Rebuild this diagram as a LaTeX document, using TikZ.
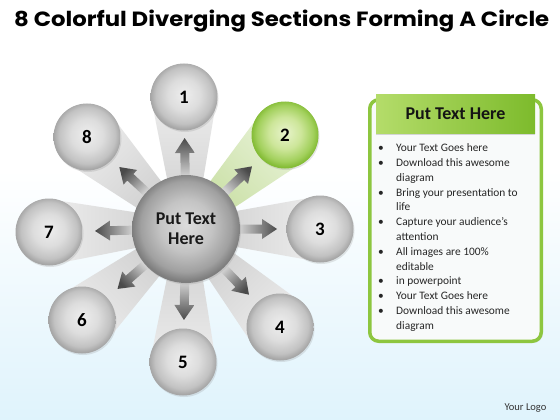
\documentclass[tikz,border=0pt]{standalone}
\usepackage{fontspec}
\setmainfont{Carlito}
\newfontfamily\titlefont{Poppins}
\usetikzlibrary{calc,shadows}
\definecolor{bluebg}{HTML}{DFF3FC}
\definecolor{pgreen}{HTML}{8DC63F}
\definecolor{panelbg}{HTML}{F8FAFA}
\definecolor{hdl}{HTML}{B4DC6A}
\definecolor{hdr}{HTML}{7DBB2C}
\definecolor{arrhead}{HTML}{4A4A4A}
\definecolor{arrtail}{HTML}{D6D6D6}
\definecolor{gbin}{HTML}{CBCBCB}
\definecolor{gbout}{HTML}{EDEDED}
\definecolor{vbin}{HTML}{C4DC9C}
\definecolor{vbout}{HTML}{E9F3D9}
\definecolor{gsA}{HTML}{EEEEEE}
\definecolor{gsB}{HTML}{DDDDDD}
\definecolor{gsC}{HTML}{C2C2C2}
\definecolor{gsD}{HTML}{A6A6A6}
\definecolor{hsA}{HTML}{DCDCDC}
\definecolor{hsB}{HTML}{C4C4C4}
\definecolor{hsC}{HTML}{A0A0A0}
\definecolor{hsD}{HTML}{7E7E7E}
\definecolor{vsA}{HTML}{E8F4CC}
\definecolor{vsB}{HTML}{CDE69A}
\definecolor{vsC}{HTML}{A2D05C}
\definecolor{vsD}{HTML}{84BC36}
\pgfdeclareradialshading{graysphere}{\pgfpoint{0bp}{2bp}}{color(0bp)=(gsA); color(12bp)=(gsB); color(21bp)=(gsC); color(25bp)=(gsD); color(50bp)=(gsD)}
\pgfdeclareradialshading{hubsphere}{\pgfpoint{0bp}{2bp}}{color(0bp)=(hsA); color(12bp)=(hsB); color(21bp)=(hsC); color(25bp)=(hsD); color(50bp)=(hsD)}
\pgfdeclareradialshading{greensphere}{\pgfpoint{0bp}{2bp}}{color(0bp)=(vsA); color(12bp)=(vsB); color(21bp)=(vsC); color(25bp)=(vsD); color(50bp)=(vsD)}
\pgfdeclarelayer{pagebg}
\pgfdeclarelayer{beams}
\pgfdeclarelayer{arrs}
\pgfsetlayers{pagebg,beams,arrs,main}
\newcommand\fatarr[2]{%
  \coordinate (at) at ($(c)!52pt!(#1)$);
  \coordinate (ah) at ($(c)!91pt!(#1)$);
  \coordinate (an) at ($(c)!76pt!(#1)$);
  \shade[top color=arrhead, bottom color=arrtail, shading angle=#2]
    ($(at)!4.5pt!90:(ah)$) -- ($(an)!4.5pt!90:(ah)$) -- ($(an)!10pt!90:(ah)$) -- (ah)
    -- ($(an)!10pt!-90:(ah)$) -- ($(an)!4.5pt!-90:(ah)$) -- ($(at)!4.5pt!-90:(ah)$) -- cycle;}
\newcommand\beamto[3]{%
  \shade[top color=#3out, bottom color=#3in, shading angle=#2]
    ($(c)!9pt!90:(#1)$) -- ($(#1)!33pt!-90:(c)$) -- ($(#1)!33pt!90:(c)$) -- ($(c)!9pt!-90:(#1)$) -- cycle;}
\begin{document}
\begin{tikzpicture}[x=1pt,y=-1pt,
  sph/.style={circle, minimum size=67pt, inner sep=0pt, shading=graysphere,
    drop shadow={shadow xshift=1pt, shadow yshift=-1.5pt, opacity=0.2},
    font=\bfseries\fontsize{19}{19}\selectfont, text=black},
  gsph/.style={sph, shading=greensphere},
  hub/.style={circle, minimum size=108pt, inner sep=0pt, shading=hubsphere,
    drop shadow={shadow xshift=1pt, shadow yshift=-1.5pt, opacity=0.2},
    align=center, font=\bfseries\fontsize{18}{20}\selectfont, text=black!90},
  listtxt/.style={anchor=base west, inner sep=0pt, font=\fontsize{11.4}{14}\selectfont, text=black!85},
  bul/.style={anchor=base, inner sep=0pt, font=\fontsize{11.4}{14}\selectfont, text=black!85}]
\useasboundingbox (0,0) rectangle (560,420);
\begin{pgfonlayer}{pagebg}
  \fill[white] (0,0) rectangle (560,420);
  \shade[top color=white, bottom color=bluebg] (0,170) rectangle (560,420);
\end{pgfonlayer}

\node[anchor=base west, inner sep=0pt] (title) at (14,26.7)
  {\resizebox{535pt}{16.5pt}{\titlefont\bfseries 8 Colorful Diverging Sections Forming A Circle}};

\node[hub] (c) at (186,229) {Put Text\\Here};
\node[sph] (o1) at (184,97) {1};
\node[gsph] (o2) at (285,135) {2};
\node[sph] (o3) at (320,229) {3};
\node[sph] (o4) at (280,327) {4};
\node[sph] (o5) at (183,362) {5};
\node[sph] (o6) at (82,320) {6};
\node[sph] (o7) at (49,232) {7};
\node[sph] (o8) at (87,137) {8};

\begin{pgfonlayer}{beams}
  \beamto{o1}{0}{gb}
  \beamto{o2}{-45}{vb}
  \beamto{o3}{-90}{gb}
  \beamto{o4}{-135}{gb}
  \beamto{o5}{180}{gb}
  \beamto{o6}{135}{gb}
  \beamto{o7}{90}{gb}
  \beamto{o8}{45}{gb}
\end{pgfonlayer}
\begin{pgfonlayer}{arrs}
  \fatarr{o1}{0}
  \fatarr{o2}{-45}
  \fatarr{o3}{-90}
  \fatarr{o4}{-135}
  \fatarr{o5}{180}
  \fatarr{o6}{135}
  \fatarr{o7}{90}
  \fatarr{o8}{45}
\end{pgfonlayer}

\node[draw=pgreen, line width=3.5pt, rounded corners=9pt, fill=panelbg,
  minimum width=171.5pt, minimum height=241.5pt, inner sep=0pt,
  drop shadow={shadow xshift=1.5pt, shadow yshift=-1.5pt, opacity=0.2}] (panel) at (455.5,220.5) {};
\node[minimum width=159pt, minimum height=38pt, inner sep=0pt, left color=hdl, right color=hdr,
  drop shadow={shadow xshift=0pt, shadow yshift=-1.5pt, opacity=0.3},
  font=\bfseries\fontsize{18}{18}\selectfont, text=black!92] (hd) at (455.5,114) {Put Text Here};

\foreach \t [count=\i] in {Your Text Goes here, Download this awesome, diagram,
  Bring your presentation to, life, Capture your audience’s, attention,
  All images are 100\%, editable, in powerpoint, Your Text Goes here,
  Download this awesome, diagram}
  \node[listtxt] (l\i) at (396,{151.7+14.8*(\i-1)}) {\t};
\foreach \i in {1,2,4,6,8,10,11,12}
  \node[bul] (b\i) at (381,{151.7+14.8*(\i-1)}) {\textbullet};

\node[inner sep=0pt, font=\fontsize{10.5}{12}\selectfont, text=black!80] (logo) at (525.5,408) {Your Logo};
\end{tikzpicture}
\end{document}
